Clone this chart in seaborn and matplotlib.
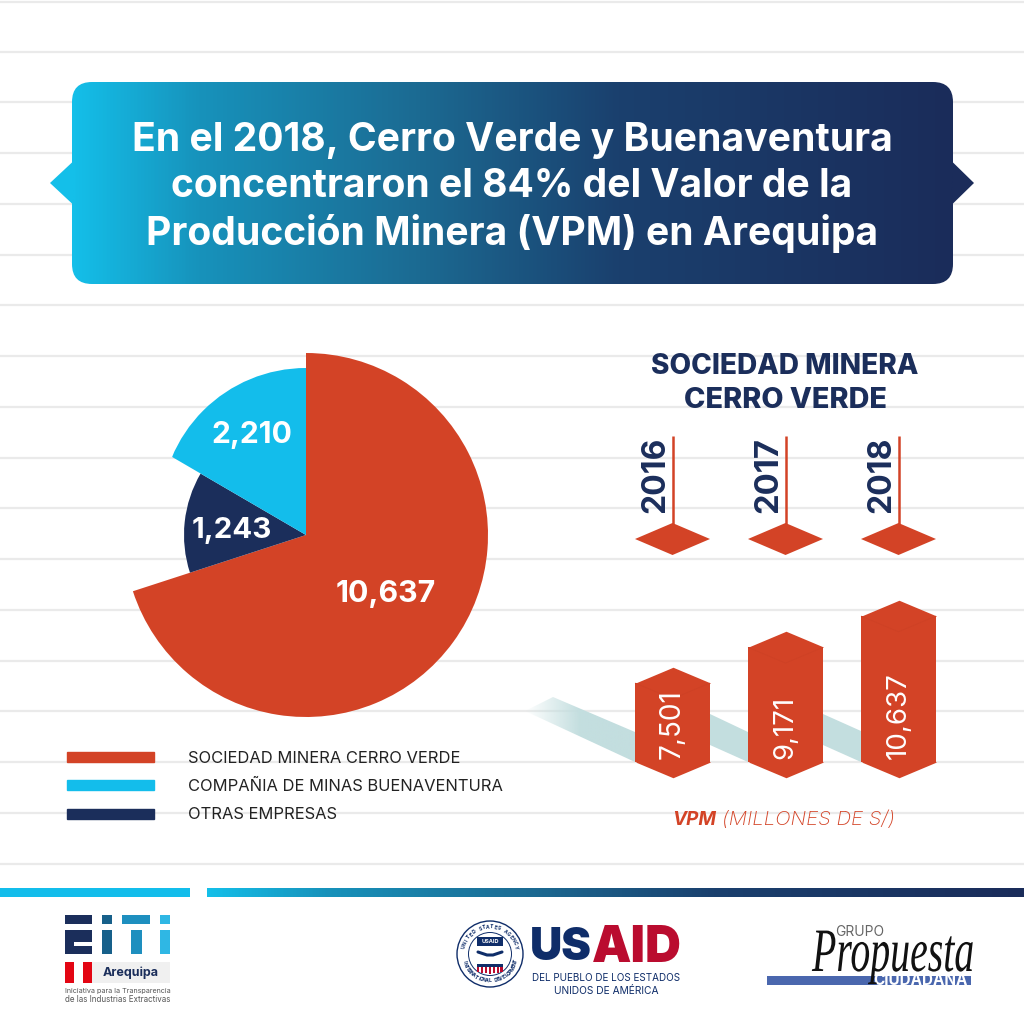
import numpy as np
import pandas as pd
import seaborn as sns
import matplotlib
matplotlib.use("Agg")
import matplotlib.pyplot as plt
import matplotlib.patheffects as pe
from matplotlib.colors import LinearSegmentedColormap, to_rgb
from matplotlib.patches import FancyBboxPatch, Polygon, Rectangle, Circle, Patch
from matplotlib.path import Path as MPath
from matplotlib.transforms import Affine2D

# ---- data ----
title_lines = ["En el 2018, Cerro Verde y Buenaventura",
               "concentraron el 84% del Valor de la",
               "Producción Minera (VPM) en Arequipa"]
companies = ["SOCIEDAD MINERA CERRO VERDE", "COMPAÑIA DE MINAS BUENAVENTURA", "OTRAS EMPRESAS"]
pie_labels = ["10,637", "1,243", "2,210"]
pie_shares = [70.0, 13.4, 16.6]      # slice sizes as drawn in the picture (clockwise)
years = ["2016", "2017", "2018"]
vpm = [7501, 9171, 10637]
vpm_labels = ["7,501", "9,171", "10,637"]

RED = "#D34326"; CYAN = "#13BDEB"; NAVY = "#1B2E5B"; TEAL = "#C3DEDF"; GRID = "#EAEAEA"
FONT = "Inter"

sns.set_theme(style="white")
plt.rcParams["font.family"] = [FONT, "DejaVu Sans"]

fig = plt.figure(figsize=(10.24, 10.24), dpi=100, facecolor="white")
def px_axes(z):
    a = fig.add_axes([0, 0, 1, 1], zorder=z)
    a.set_xlim(0, 1024); a.set_ylim(1024, 0); a.axis("off"); a.patch.set_alpha(0)
    return a
bg = px_axes(0)
top = px_axes(5)
renderer = fig.canvas.get_renderer()

def fit(t, width):
    w = t.get_window_extent(renderer)
    w = w.height if t.get_rotation() == 90 else w.width
    t.set_fontsize(t.get_fontsize() * width / w)
    return t

class Stretch(pe.AbstractPathEffect):
    """Scale the glyph outlines of a text around a display point."""
    def __init__(self, sy, cy):
        super().__init__()
        self.sy, self.cy = sy, cy
    def draw_path(self, renderer, gc, tpath, affine, rgbFace=None):
        a = affine + Affine2D().translate(0, -self.cy).scale(1, self.sy).translate(0, self.cy)
        renderer.draw_path(gc, tpath, a, rgbFace)

# ---- ruled background ----
for y in 356 + 50.75 * (np.arange(18) - 7):
    bg.plot([0, 1024], [y + (1.2 if y < 2 else 0)] * 2, color=GRID, lw=1.6, solid_capstyle="butt", zorder=0)

# ---- gradient helper ----
grad = LinearSegmentedColormap.from_list(
    "g", [(0, "#14BFE9"), (0.145, "#1792BB"), (0.395, "#1C6A92"), (0.62, "#1A406E"), (1, "#1B2C5A")])
def gradient(ax, x0, x1, y0, y1, clip=None, z=1):
    im = ax.imshow(np.linspace(0, 1, 512)[None, :], cmap=grad, aspect="auto",
                   extent=(x0, x1, y1, y0), zorder=z)
    if clip is not None:
        im.set_clip_path(clip)
    return im

# ---- header banner ----
box = FancyBboxPatch((92, 102), 841, 162, boxstyle="round,pad=20,rounding_size=20",
                     fc="none", ec="none", transform=bg.transData)
bg.add_patch(box)
gradient(bg, 72, 953, 82, 284, clip=box, z=2)
bg.add_patch(Polygon([(72.5, 162), (50, 183), (72.5, 204)], closed=True, fc="#14BFE9", ec="none", zorder=2))
bg.add_patch(Polygon([(952.5, 162), (974, 183), (952.5, 204)], closed=True, fc="#1B2C5A", ec="none", zorder=2))
bg.set_xlim(0, 1024); bg.set_ylim(1024, 0)
for line, y, w in zip(title_lines, [140.5, 186.5, 233.5], [761, 680, 731]):
    fit(top.text(512, y, line, color="white", fontsize=26, fontweight="bold",
                 ha="center", va="center"), w)

# ---- pie ----
R = 182
pie_ax = fig.add_axes([(306 - R) / 1024, 1 - (535 + R) / 1024, 2 * R / 1024, 2 * R / 1024], zorder=2)
wedges, _ = pie_ax.pie(pie_shares, colors=[RED, NAVY, CYAN], startangle=90, counterclock=False, radius=1)
for wd in wedges:
    wd.set_edgecolor("none")
wedges[1].set_radius(122 / R)
pie_ax.set_xlim(-1, 1); pie_ax.set_ylim(-1, 1); pie_ax.axis("off")
# the blue slice has an arc that is not concentric with the others
wedges[2].set_clip_on(True)
wedges[2].set_clip_path(MPath.circle((306, 513.4), 145.4), transform=bg.transData)
for s, x, y, w in zip(pie_labels, [386, 232, 252], [594, 530, 435], [100, 80, 81]):
    fit(top.text(x, y, s, color="white", fontsize=22, fontweight="bold", ha="center", va="center"), w)

# ---- legend ----
handles = [Patch(color=RED), Patch(color=CYAN), Patch(color=NAVY)]
fig.legend(handles, companies, loc="upper left", bbox_to_anchor=(60.4 / 1024, 1 - 744.3 / 1024),
           frameon=False, fontsize=11.9, labelcolor="#222222", handlelength=5.26, handleheight=0.545,
           handletextpad=2.06, labelspacing=0.80, borderpad=0.4, borderaxespad=0)

# ---- right panel heading ----
fit(top.text(785, 366, "SOCIEDAD MINERA", color=NAVY, fontsize=19, fontweight=800, ha="center", va="center"), 267)
fit(top.text(785, 400, "CERRO VERDE", color=NAVY, fontsize=19, fontweight=800, ha="center", va="center"), 203)

# ---- columns ----
base_px, y_scale = 762, 0.02136          # pixels per value unit
base_val = 3803
col_left, col_w = 616, 339
top_val = 11500
h_px = (top_val - base_val) * y_scale
bar_ax = fig.add_axes([col_left / 1024, 1 - base_px / 1024, col_w / 1024, h_px / 1024], zorder=3)
df = pd.DataFrame({"year": years, "vpm": vpm})
sns.barplot(data=df, x="year", y="vpm", color=RED, saturation=1, width=0.664, linewidth=0, ax=bar_ax)
bar_ax.set_xlim(-0.5, 2.5); bar_ax.set_ylim(base_val, top_val); bar_ax.axis("off")
diamond = MPath([(-1, 0), (0, 0.42), (1, 0), (0, -0.42), (-1, 0)], closed=True)
vee = MPath([(-1, 0), (0, -0.42), (1, 0)])
s = (75 * 0.72) ** 2
xs = np.arange(len(years))
bar_ax.scatter(xs, vpm, marker=diamond, s=s, color=RED, lw=0, clip_on=False, zorder=4)
bar_ax.scatter(xs, [base_val] * 3, marker=diamond, s=s, color=RED, lw=0, clip_on=False, zorder=4)
bar_ax.scatter(xs, vpm, marker=vee, s=s, facecolors="none", edgecolors="#CD4125", lw=0.5, clip_on=False, zorder=5)

# teal ribbons behind the columns
ribbon = [[(710, 714), (748, 732), (748, 762), (710, 745)],
          [(823, 714), (861, 731), (861, 762), (823, 745)]]
for pts in ribbon:
    bg.add_patch(Polygon(pts, closed=True, fc=TEAL, ec="none", zorder=1))
fade_cmap = LinearSegmentedColormap.from_list("f", [(*to_rgb(TEAL), 0), (*to_rgb(TEAL), 1), (*to_rgb(TEAL), 1)])
clip = Polygon([(525, 711), (553, 697), (635, 732), (635, 762)], closed=True, fc="none", ec="none", transform=bg.transData)
bg.add_patch(clip)
im = bg.imshow(np.linspace(0, 1, 256)[None, :], cmap=fade_cmap, aspect="auto", extent=(525, 635, 762, 697), zorder=1)
im.set_clip_path(clip)
bg.set_xlim(0, 1024); bg.set_ylim(1024, 0)

# pins
centers = [672.5, 785.5, 898.5]
for yr, cx in zip(years, centers):
    top.plot([cx, cx], [436, 525], color=RED, lw=1.8, solid_capstyle="butt")
    top.add_patch(Polygon([(cx - 37.5, 539), (cx, 523), (cx + 37.5, 539), (cx, 555)], closed=True, fc=RED, ec="none"))
    fit(top.text(cx - 16.5, 513, yr, color=NAVY, fontsize=24, fontweight="bold", rotation=90, ha="center", va="bottom"), 76)
for lab, cx, w in zip(vpm_labels, centers, [70, 63, 87]):
    fit(top.text(cx, 759, lab, color="white", fontsize=22, rotation=90, ha="center", va="bottom"), w)

# caption
fit(top.text(672, 820, "VPM", color=RED, fontsize=13, fontweight="bold", style="italic", ha="left", va="center"), 44)
fit(top.text(722, 820, "(MILLONES DE S/)", color=RED, fontsize=13, fontweight="light", style="italic", ha="left", va="center"), 173)

# ---- footer ----
bg.add_patch(Rectangle((0, 872), 1024, 152, fc="white", ec="none", zorder=0.5))
bg.add_patch(Rectangle((0, 888), 190, 9, fc=CYAN, ec="none", zorder=1))
gradient(bg, 207, 1024, 888, 897, z=1)
bg.set_xlim(0, 1024); bg.set_ylim(1024, 0)

# EITI mark
for (x0, x1, c) in [(65, 92, NAVY), (102, 112, "#17608A"), (122, 150, "#1E8FBF"), (160, 170, "#2FB7E4")]:
    bg.add_patch(Rectangle((x0, 915), x1 - x0, 9, fc=c, ec="none", zorder=2))
bg.add_patch(Rectangle((65, 930), 27, 24, fc=NAVY, ec="none", zorder=2))
bg.add_patch(Rectangle((74, 942), 18, 4, fc="white", ec="none", zorder=2))
for (x0, x1, c) in [(102, 112, "#17608A"), (131, 142, "#1E8FBF"), (160, 170, "#2FB7E4")]:
    bg.add_patch(Rectangle((x0, 930), x1 - x0, 24, fc=c, ec="none", zorder=2))
bg.add_patch(Rectangle((92, 962), 78, 21, fc="#F0F0F0", ec="none", zorder=2))
for x0 in (65, 83):
    bg.add_patch(Rectangle((x0, 962), 9, 21, fc="#E30613", ec="none", zorder=2))
fit(top.text(131, 973, "Arequipa", color=NAVY, fontsize=9, fontweight="bold", ha="center", va="center"), 56)
fit(top.text(65, 991, "Iniciativa para la Transparencia", color="#555555", fontsize=5, ha="left", va="center"), 105)
fit(top.text(65, 999, "de las Industrias Extractivas", color="#555555", fontsize=5, ha="left", va="center"), 105)

# USAID seal
USN = "#0F2D69"; USR = "#BA0C2F"
cx0, cy0 = 490, 954
bg.add_patch(Circle((cx0, cy0), 33, fc="white", ec=USN, lw=1.0, zorder=2))
bg.add_patch(Circle((cx0, cy0), 21.5, fc="white", ec=USN, lw=0.7, zorder=2))
def ring(text, a0, a1, r, flip):
    for ch, a in zip(text, np.linspace(a0, a1, len(text))):
        x = cx0 + r * np.cos(np.radians(a)); y = cy0 - r * np.sin(np.radians(a))
        rot = a - 90 if not flip else a + 90
        top.text(x, y, ch, fontsize=3.6, color=USN, fontweight="bold", rotation=rot,
                 rotation_mode="anchor", ha="center", va="center")
ring("UNITED STATES AGENCY", 165, 15, 27, False)
ring("INTERNATIONAL DEVELOPMENT", 195, 345, 27, True)
bg.add_patch(Rectangle((cx0 - 13, 937), 26, 9, fc=USN, ec="none", zorder=3))
top.text(cx0, 941.5, "USAID", color="white", fontsize=4, fontweight="bold", ha="center", va="center")
bg.add_patch(Rectangle((cx0 - 13, 964), 26, 3, fc=USN, ec="none", zorder=3))
for i in range(7):
    bg.add_patch(Rectangle((cx0 - 13 + i * 3.9, 967), 2.2, 7 - abs(i - 3) * 0.7, fc=USR, ec="none", zorder=3))
top.plot([cx0 - 12, cx0 - 3, cx0 + 3, cx0 + 12], [952, 955, 955, 952], color=USN, lw=2.2)
fit(top.text(530, 948.5, "US", color=USN, fontsize=28, fontweight="black", ha="left", va="center"), 62)
fit(top.text(592, 948.5, "AID", color=USR, fontsize=28, fontweight="black", ha="left", va="center"), 90)
fit(top.text(606, 978, "DEL PUEBLO DE LOS ESTADOS", color=USN, fontsize=7, ha="center", va="center"), 149)
fit(top.text(606, 990.5, "UNIDOS DE AMÉRICA", color=USN, fontsize=7, ha="center", va="center"), 106)

# Propuesta Ciudadana
bg.add_patch(Rectangle((767, 976), 204, 9, fc="#4A67AE", ec="none", zorder=2))
fit(top.text(920, 980.3, "CIUDADANA", color="white", fontsize=6, fontweight="bold", ha="center", va="center"), 94)
fit(top.text(860, 932, "GRUPO", color="#666666", fontsize=6, ha="center", va="center"), 49)
prop = fit(top.text(893, 971, "Propuesta", color="#111111", fontsize=38, style="italic",
                    family=["Liberation Serif"], ha="center", va="baseline"), 162)
prop.set_path_effects([Stretch(1.55, 1024 - 971)])

fig.savefig("out.png", dpi=100, facecolor="white")
